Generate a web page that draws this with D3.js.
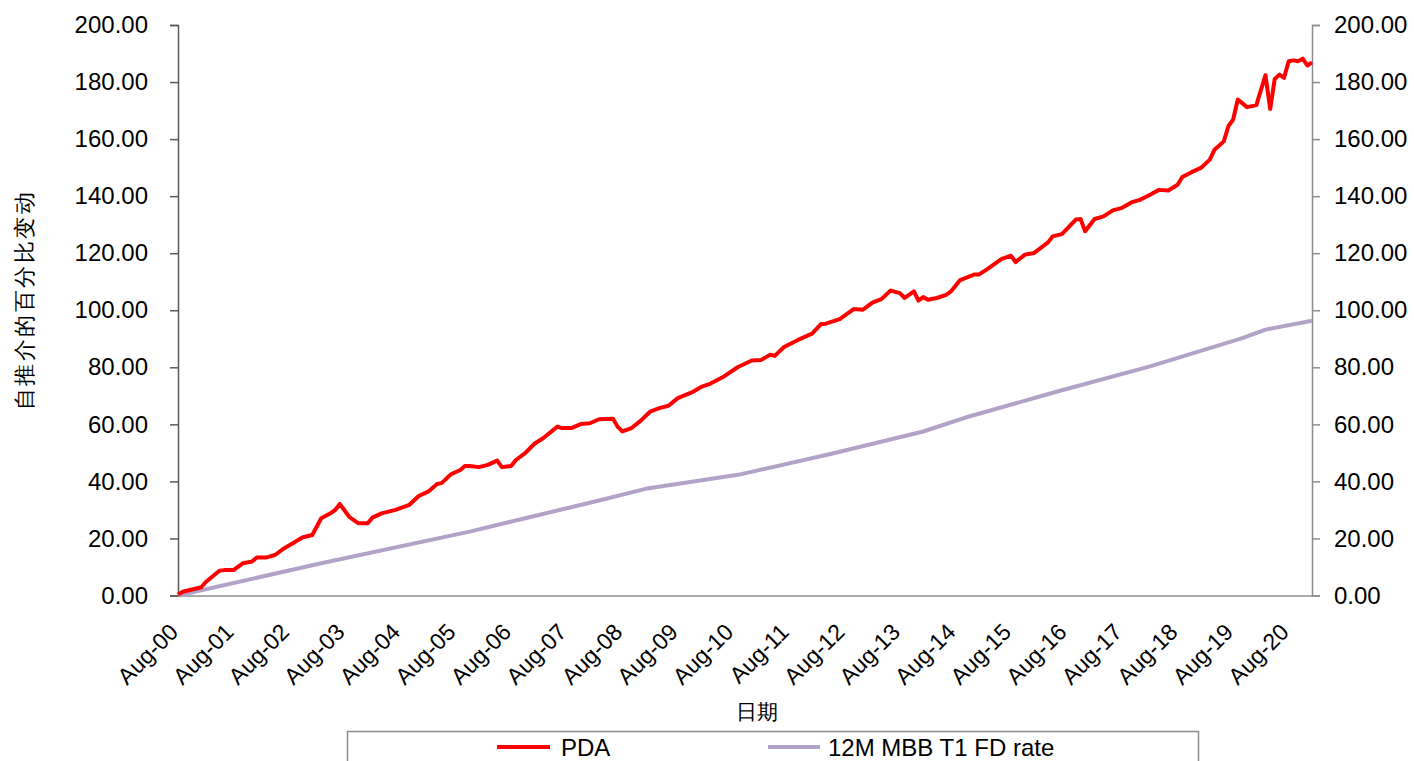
<!DOCTYPE html>
<html>
<head>
<meta charset="utf-8">
<script src="https://cdn.jsdelivr.net/npm/d3@7"></script>
<style>
  html, body { margin: 0; padding: 0; background: #fff; }
  svg { display: block; }
  text { font-family: "Liberation Sans", Arial, sans-serif; fill: #000; }
</style>
</head>
<body>
<svg id="chart" width="1414" height="761"></svg>
<script>
// ---- data ----
const pdaDates = ["2000-08","2000-09","2001-01","2001-02","2001-05","2001-06","2001-08","2001-10","2001-12","2002-01",
  "2002-03","2002-05","2002-07","2002-09","2002-10","2002-11","2003-01","2003-03","2003-05","2003-06",
  "2003-07","2003-09","2003-11","2004-01","2004-02","2004-04","2004-07","2004-10","2004-12","2005-02",
  "2005-04","2005-05","2005-07","2005-09","2005-10","2005-11","2006-01","2006-03","2006-05","2006-06",
  "2006-08","2006-09","2006-11","2007-01","2007-03","2007-06","2007-07","2007-09","2007-11","2008-01",
  "2008-03","2008-06","2008-07","2008-08","2008-10","2008-12","2009-02","2009-04","2009-06","2009-08",
  "2009-11","2010-01","2010-03","2010-06","2010-09","2010-12","2011-02","2011-04","2011-05","2011-07",
  "2011-10","2012-01","2012-03","2012-04","2012-07","2012-10","2012-12","2013-02","2013-04","2013-06",
  "2013-08","2013-09","2013-11","2013-12","2014-01","2014-02","2014-04","2014-06","2014-07","2014-09",
  "2014-12","2015-01","2015-03","2015-06","2015-08","2015-09","2015-11","2016-01","2016-04","2016-05",
  "2016-07","2016-10","2016-11","2016-12","2017-02","2017-04","2017-06","2017-08","2017-10","2017-12",
  "2018-02","2018-04","2018-06","2018-08","2018-09","2018-11","2019-01","2019-03","2019-04","2019-06",
  "2019-07","2019-08","2019-09","2019-11","2020-01","2020-03","2020-04","2020-05","2020-06","2020-07",
  "2020-08","2020-09","2020-10","2020-11","2020-12","2021-01"];
const pdaValues = [0.3,1.3,2.9,4.8,8.7,8.9,8.9,11.3,11.9,13.3,
  13.3,14.2,16.6,18.5,19.5,20.4,21.2,27.1,28.8,30.0,
  32.1,27.6,25.3,25.3,27.3,28.8,30.0,31.8,34.9,36.4,
  39.1,39.4,42.5,44.0,45.4,45.4,45.0,45.8,47.3,45.0,
  45.4,47.5,49.9,53.2,55.2,59.2,58.7,58.7,60.1,60.4,
  61.8,62.0,59.2,57.5,58.7,61.3,64.5,65.7,66.5,69.2,
  71.2,73.1,74.2,76.8,80.1,82.4,82.6,84.4,84.0,87.1,
  89.6,91.8,95.2,95.3,96.9,100.4,100.2,102.7,103.9,106.9,
  106.0,104.3,106.6,103.4,104.6,103.7,104.3,105.4,106.5,110.6,
  112.5,112.5,114.5,118.0,119.1,116.9,119.5,120.1,123.8,125.9,
  126.7,131.8,132.0,127.7,132.0,132.9,135.0,135.9,137.8,138.8,
  140.5,142.2,142.0,144.0,146.7,148.4,149.9,152.8,156.3,159.2,
  164.5,166.8,173.9,171.2,171.9,182.4,170.6,181.1,182.6,181.5,
  187.3,187.6,187.3,188.2,185.8,186.9];

const fdDates  = ["2000-08","2003-03","2005-11","2008-03","2009-01","2010-09","2012-05","2014-01","2014-10","2016-06","2018-02","2019-10","2020-03","2021-01"];
const fdValues = [0,11.3,22.4,33.3,37.4,42.3,49.6,57.5,62.3,71.5,80.3,90.2,93.2,96.3];

const seriesNames = ["PDA", "12M MBB T1 FD rate"];
const xTickDates  = ["2000-08","2001-08","2002-08","2003-08","2004-08","2005-08","2006-08","2007-08","2008-08","2009-08",
  "2010-08","2011-08","2012-08","2013-08","2014-08","2015-08","2016-08","2017-08","2018-08","2019-08","2020-08"];
const xTickLabels = ["Aug-00","Aug-01","Aug-02","Aug-03","Aug-04","Aug-05","Aug-06","Aug-07","Aug-08","Aug-09",
  "Aug-10","Aug-11","Aug-12","Aug-13","Aug-14","Aug-15","Aug-16","Aug-17","Aug-18","Aug-19","Aug-20"];
const yTicks = [0,20,40,60,80,100,120,140,160,180,200];
const yTitle = "自推介的百分比变动";
const xTitle = "日期";

// ---- drawing ----
const parse = d3.timeParse("%Y-%m");
const svg = d3.select("#chart");
const L = 178, R = 1312, T = 25, B = 595.5;
const FONT = "Liberation Sans, Arial, sans-serif";

const x = d3.scaleTime().domain([parse("2000-08"), parse("2021-01")]).range([L, R]);
const y = d3.scaleLinear().domain([0, 200]).range([B, T]);

const fmt = d3.format(".2f");

// left axis
const gL = svg.append("g").attr("transform", `translate(${L},0)`)
  .call(d3.axisLeft(y).tickValues(yTicks).tickFormat(fmt).tickSizeOuter(0).tickSize(8).tickPadding(22));
gL.select(".domain").attr("stroke", "#595959").attr("stroke-width", 1.5);
gL.selectAll(".tick line").attr("stroke", "#595959").attr("stroke-width", 1.5);
gL.selectAll(".tick text").attr("font-size", 24).attr("font-family", FONT).attr("fill", "#000");

// right axis
const gR = svg.append("g").attr("transform", `translate(${R},0)`)
  .call(d3.axisRight(y).tickValues(yTicks).tickFormat(fmt).tickSizeOuter(0).tickSize(8).tickPadding(14));
gR.select(".domain").attr("stroke", "#8c8c8c").attr("stroke-width", 1.5);
gR.selectAll(".tick line").attr("stroke", "#8c8c8c").attr("stroke-width", 1.5);
gR.selectAll(".tick text").attr("font-size", 24).attr("font-family", FONT).attr("fill", "#000");

// bottom axis
const gB = svg.append("g").attr("transform", `translate(0,${B})`)
  .call(d3.axisBottom(x).tickValues(xTickDates.map(parse))
    .tickFormat((d, i) => xTickLabels[i]).tickSize(0).tickSizeOuter(0));
gB.select(".domain").attr("stroke", "#8c8c8c").attr("stroke-width", 1.5);
gB.selectAll(".tick text")
  .attr("font-size", 23).attr("font-family", FONT).attr("fill", "#000")
  .attr("text-anchor", "end")
  .attr("dy", 0).attr("y", 0)
  .attr("transform", "translate(1,38) rotate(-45)");

// lines
const line = d3.line().x(d => x(d[0])).y(d => y(d[1])).curve(d3.curveLinear);
const fdData  = fdDates.map((d, i) => [parse(d), fdValues[i]]);
const pdaData = pdaDates.map((d, i) => [parse(d), pdaValues[i]]);

svg.append("path").datum(fdData).attr("d", line)
  .attr("fill", "none").attr("stroke", "#b3a2c7").attr("stroke-width", 4).attr("stroke-linejoin", "round");
svg.append("path").datum(pdaData).attr("d", line)
  .attr("fill", "none").attr("stroke", "#ff0000").attr("stroke-width", 4).attr("stroke-linejoin", "round");

// axis titles
svg.append("text").attr("transform", "translate(32,300) rotate(-90)")
  .attr("text-anchor", "middle").attr("font-size", 22)
  .attr("font-family", "Noto Sans CJK SC, sans-serif").attr("letter-spacing", 2.5)
  .text(yTitle);
svg.append("text").attr("x", 757).attr("y", 719)
  .attr("text-anchor", "middle").attr("font-size", 21)
  .attr("font-family", "Noto Sans CJK SC, sans-serif")
  .text(xTitle);

// legend
svg.append("rect").attr("x", 347.5).attr("y", 731.5).attr("width", 851).attr("height", 60)
  .attr("fill", "none").attr("stroke", "#8c8c8c").attr("stroke-width", 1.5);
const legendItems = [
  {name: seriesNames[0], color: "#ff0000", x0: 497, x1: 550, tx: 561},
  {name: seriesNames[1], color: "#b3a2c7", x0: 768, x1: 820, tx: 828}
];
legendItems.forEach(it => {
  svg.append("line").attr("x1", it.x0).attr("x2", it.x1).attr("y1", 747).attr("y2", 747)
    .attr("stroke", it.color).attr("stroke-width", 4);
  svg.append("text").attr("x", it.tx).attr("y", 756).attr("font-size", 24)
    .attr("font-family", FONT).text(it.name);
});
</script>
</body>
</html>
